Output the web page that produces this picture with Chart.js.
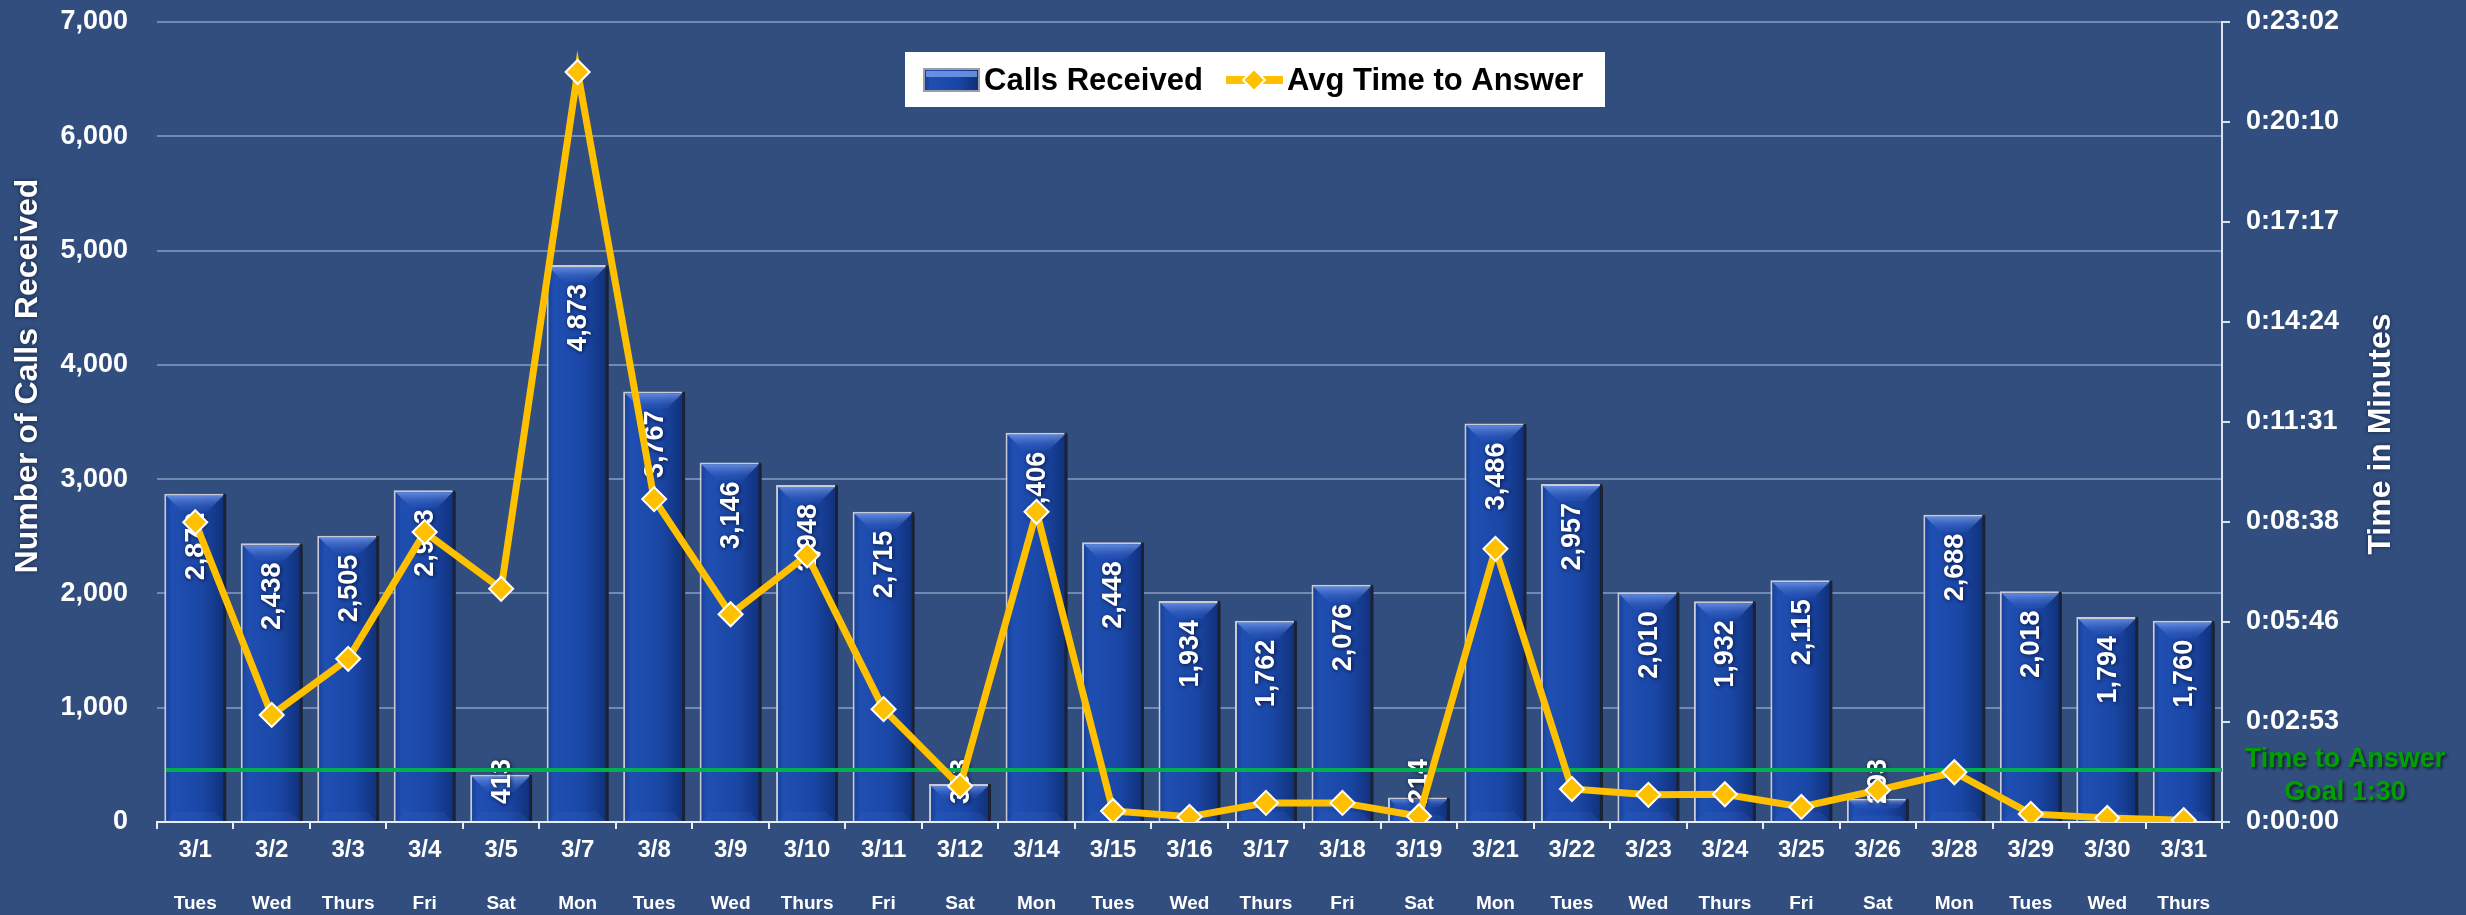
<!DOCTYPE html>
<html>
<head>
<meta charset="utf-8">
<title>Calls Received and Avg Time to Answer</title>
<script src="https://cdn.jsdelivr.net/npm/chart.js@4.4.1/dist/chart.umd.min.js"></script>
<style>
  html, body { margin: 0; padding: 0; background: #314e7e; overflow: hidden; }
</style>
</head>
<body>
<canvas id="callsChart" width="2466" height="915"></canvas>
<script>
const dateLabels = ['3/1', '3/2', '3/3', '3/4', '3/5', '3/7', '3/8', '3/9', '3/10', '3/11', '3/12', '3/14', '3/15', '3/16',
    '3/17', '3/18', '3/19', '3/21', '3/22', '3/23', '3/24', '3/25', '3/26', '3/28', '3/29', '3/30', '3/31'];
const dayLabels = ['Tues', 'Wed', 'Thurs', 'Fri', 'Sat', 'Mon', 'Tues', 'Wed', 'Thurs', 'Fri', 'Sat', 'Mon', 'Tues', 'Wed',
    'Thurs', 'Fri', 'Sat', 'Mon', 'Tues', 'Wed', 'Thurs', 'Fri', 'Sat', 'Mon', 'Tues', 'Wed', 'Thurs'];
const callsReceived = [2872, 2438, 2505, 2903, 413, 4873, 3767, 3146, 2948, 2715, 333, 3406, 2448, 1934,
    1762, 2076, 214, 3486, 2957, 2010, 1932, 2115, 203, 2688, 2018, 1794, 1760];
// average time to answer, in seconds
const avgAnswerSeconds = [518, 185, 282, 501, 403, 1296, 558, 359, 461, 195, 62, 536, 19, 9,
    33, 33, 10, 472, 57, 47, 48, 26, 55, 86, 14, 7, 3];
const callTicks = [0, 1000, 2000, 3000, 4000, 5000, 6000, 7000];
const timeTickSeconds = [0, 172.8, 345.6, 518.4, 691.2, 864, 1036.8, 1209.6, 1382.4];
const timeTickLabels = ['0:00:00', '0:02:53', '0:05:46', '0:08:38', '0:11:31', '0:14:24', '0:17:17', '0:20:10', '0:23:02'];
const goalSeconds = 90;
const goalText = ['Time to Answer', 'Goal 1:30'];

const FONT = '"Liberation Sans", Arial, sans-serif';
const GOLD = '#FFC000';

Chart.defaults.font.family = FONT;
Chart.defaults.font.weight = 'bold';
Chart.defaults.color = '#ffffff';

// horizontal gradient used for the bars
function barGradient(ctx, left, right) {
    const g = ctx.createLinearGradient(left, 0, right, 0);
    g.addColorStop(0, '#163c92');
    g.addColorStop(0.12, '#1f4fb2');
    g.addColorStop(0.6, '#1a47a6');
    g.addColorStop(1, '#102f77');
    return g;
}

const backgroundPlugin = {
    id: 'background',
    beforeDraw(chart) {
        const ctx = chart.ctx;
        ctx.save();
        ctx.fillStyle = '#314e7e';
        ctx.fillRect(0, 0, chart.width, chart.height);
        ctx.restore();
    }
};

// bevels, value labels and the goal line, drawn after the bars but under the line series
const barDecorPlugin = {
    id: 'barDecor',
    afterDatasetDraw(chart, args) {
        if (args.index !== 0) return;
        const ctx = chart.ctx;
        const meta = chart.getDatasetMeta(0);
        ctx.save();
        meta.data.forEach((el) => {
            const {x, y, base, width} = el.getProps(['x', 'y', 'base', 'width'], true);
            const l = x - width / 2, r = x + width / 2;
            const h = base - y;
            const bev = Math.min(15, h / 3);
            // top bevel
            let g = ctx.createLinearGradient(0, y, 0, y + bev);
            g.addColorStop(0, 'rgba(120,160,240,0.9)');
            g.addColorStop(1, 'rgba(50,90,190,0.35)');
            ctx.fillStyle = g;
            ctx.beginPath();
            ctx.moveTo(l + 2, y + 2);
            ctx.lineTo(r - 3, y + 2);
            ctx.lineTo(r - 3 - bev, y + 2 + bev);
            ctx.lineTo(l + 2 + bev, y + 2 + bev);
            ctx.closePath();
            ctx.fill();
            // bottom bevel
            const bb = Math.min(9, h / 4);
            ctx.fillStyle = 'rgba(60,100,200,0.2)';
            ctx.beginPath();
            ctx.moveTo(l + 2 + bb, base - bb);
            ctx.lineTo(r - 3 - bb, base - bb);
            ctx.lineTo(r - 3, base);
            ctx.lineTo(l + 2, base);
            ctx.closePath();
            ctx.fill();
            // dark right edge
            ctx.fillStyle = '#1b2234';
            ctx.fillRect(r - 3, y, 3, h);
        });

        // value labels
        ctx.font = 'bold 27px ' + FONT;
        ctx.fillStyle = '#ffffff';
        ctx.shadowColor = 'rgba(0,0,20,0.75)';
        ctx.shadowBlur = 4;
        ctx.shadowOffsetX = 1;
        ctx.shadowOffsetY = 1;
        ctx.textAlign = 'center';
        ctx.textBaseline = 'middle';
        meta.data.forEach((el, i) => {
            const {x, y, base} = el.getProps(['x', 'y', 'base'], true);
            const txt = callsReceived[i].toLocaleString('en-US');
            const len = ctx.measureText(txt).width;
            let top = y + 19;
            if (top + len > base - 17) top = base - 17 - len;
            ctx.save();
            ctx.translate(x, top + len / 2);
            ctx.rotate(-Math.PI / 2);
            ctx.fillText(txt, 0, 1);
            ctx.restore();
        });
        ctx.restore();

        // goal line
        const area = chart.chartArea;
        const gy = chart.scales.y2.getPixelForValue(goalSeconds);
        ctx.save();
        ctx.strokeStyle = '#00b050';
        ctx.lineWidth = 4;
        ctx.beginPath();
        ctx.moveTo(area.left + 9, gy);
        ctx.lineTo(area.right, gy);
        ctx.stroke();
        ctx.restore();
    }
};

// legend box, axis titles and goal caption
const overlayPlugin = {
    id: 'overlay',
    afterDraw(chart) {
        const ctx = chart.ctx;
        ctx.save();

        // legend
        ctx.fillStyle = '#ffffff';
        ctx.fillRect(905, 52, 700, 55);
        ctx.fillStyle = barGradient(ctx, 924, 979);
        ctx.fillRect(924, 69, 55, 22);
        ctx.fillStyle = 'rgba(120,160,240,0.8)';
        ctx.fillRect(926, 71, 51, 6);
        ctx.strokeStyle = '#9a9ea8';
        ctx.lineWidth = 2;
        ctx.strokeRect(924, 69, 55, 22);
        ctx.fillStyle = '#000000';
        ctx.font = 'bold 31px ' + FONT;
        ctx.textBaseline = 'middle';
        ctx.textAlign = 'left';
        ctx.fillText(chart.data.datasets[0].label, 984, 81);
        ctx.strokeStyle = GOLD;
        ctx.lineWidth = 8;
        ctx.beginPath();
        ctx.moveTo(1226, 80);
        ctx.lineTo(1283, 80);
        ctx.stroke();
        ctx.fillStyle = GOLD;
        ctx.strokeStyle = '#ffffff';
        ctx.lineWidth = 2;
        ctx.beginPath();
        ctx.moveTo(1254, 69);
        ctx.lineTo(1265, 80);
        ctx.lineTo(1254, 91);
        ctx.lineTo(1243, 80);
        ctx.closePath();
        ctx.fill();
        ctx.stroke();
        ctx.fillStyle = '#000000';
        ctx.fillText(chart.data.datasets[1].label, 1287, 81);

        // axis titles
        ctx.font = 'bold 32px ' + FONT;
        ctx.fillStyle = '#ffffff';
        ctx.shadowColor = 'rgba(0,0,20,0.6)';
        ctx.shadowBlur = 4;
        ctx.textAlign = 'center';
        ctx.save();
        ctx.translate(28, 376);
        ctx.rotate(-Math.PI / 2);
        ctx.fillText('Number of Calls Received', 0, 0);
        ctx.restore();
        ctx.save();
        ctx.translate(2381, 434);
        ctx.rotate(-Math.PI / 2);
        ctx.fillText('Time in Minutes', 0, 0);
        ctx.restore();

        // goal caption
        ctx.font = 'bold 27px ' + FONT;
        ctx.fillStyle = '#00a000';
        ctx.shadowColor = 'rgba(0,0,0,0.6)';
        ctx.shadowBlur = 3;
        ctx.shadowOffsetX = 2;
        ctx.shadowOffsetY = 2;
        ctx.fillText(goalText[0], 2345, 760);
        ctx.fillText(goalText[1], 2345, 793);
        ctx.restore();
    }
};

const ctx = document.getElementById('callsChart').getContext('2d');

new Chart(ctx, {
    type: 'bar',
    data: {
        labels: dateLabels,
        datasets: [
            {
                type: 'bar',
                label: 'Calls Received',
                data: callsReceived,
                xAxisID: 'x',
                yAxisID: 'y',
                order: 1,
                barPercentage: 0.81,
                categoryPercentage: 1.0,
                borderWidth: {left: 2, top: 2, right: 0, bottom: 0},
                borderSkipped: false,
                borderColor: '#c9ccd6',
                backgroundColor: function(context) {
                    const chart = context.chart;
                    const xs = chart.scales.x;
                    if (!xs || !chart.chartArea) return '#1a47a6';
                    const cx = xs.getPixelForValue(context.dataIndex);
                    const half = xs.width / dateLabels.length * 0.81 / 2;
                    return barGradient(chart.ctx, cx - half, cx + half);
                }
            },
            {
                type: 'line',
                label: 'Avg Time to Answer',
                data: avgAnswerSeconds,
                xAxisID: 'x',
                yAxisID: 'y2',
                order: 0,
                borderColor: GOLD,
                borderWidth: 7,
                tension: 0,
                pointStyle: 'rectRot',
                pointRadius: 12,
                pointBackgroundColor: GOLD,
                pointBorderColor: '#ffffff',
                pointBorderWidth: 2
            }
        ]
    },
    options: {
        responsive: false,
        animation: false,
        layout: {
            padding: {top: 22, left: 0, right: 0, bottom: 0}
        },
        scales: {
            x: {
                type: 'category',
                position: 'bottom',
                weight: 0,
                offset: true,
                grid: {
                    offset: true,
                    drawOnChartArea: false,
                    drawTicks: true,
                    tickLength: 7,
                    color: '#e8ecf3',
                    lineWidth: 2
                },
                border: {display: true, color: '#e8ecf3', width: 2},
                ticks: {
                    autoSkip: false,
                    maxRotation: 0,
                    padding: 7,
                    font: {size: 24, weight: 'bold'}
                },
                afterFit(scale) { scale.height = 48; }
            },
            x2: {
                type: 'category',
                position: 'bottom',
                weight: 1,
                labels: dayLabels,
                offset: true,
                grid: {display: false, drawTicks: false},
                border: {display: false},
                ticks: {
                    autoSkip: false,
                    maxRotation: 0,
                    padding: 22,
                    font: {size: 19, weight: 'bold'}
                },
                afterFit(scale) { scale.height = 45; }
            },
            y: {
                type: 'linear',
                position: 'left',
                min: 0,
                max: 7000,
                grid: {
                    color: 'rgba(180,195,228,0.5)',
                    lineWidth: 2,
                    drawTicks: false
                },
                border: {display: false},
                ticks: {
                    padding: 29,
                    font: {size: 27, weight: 'bold'},
                    callback: function(value) {
                        return value.toLocaleString('en-US');
                    }
                },
                afterBuildTicks(scale) {
                    scale.ticks = callTicks.map(v => ({value: v}));
                },
                afterFit(scale) {
                    scale.width = 157;
                    scale.paddingTop = 0;
                    scale.paddingBottom = 0;
                }
            },
            y2: {
                type: 'linear',
                position: 'right',
                min: 0,
                max: timeTickSeconds[timeTickSeconds.length - 1],
                grid: {
                    drawOnChartArea: false,
                    drawTicks: true,
                    tickLength: 8,
                    color: '#dde3ee',
                    lineWidth: 2
                },
                border: {display: true, color: '#dde3ee', width: 2},
                ticks: {
                    padding: 16,
                    font: {size: 27, weight: 'bold'},
                    callback: function(value, index) {
                        return timeTickLabels[index];
                    }
                },
                afterBuildTicks(scale) {
                    scale.ticks = timeTickSeconds.map(v => ({value: v}));
                },
                afterFit(scale) {
                    scale.width = 244;
                    scale.paddingTop = 0;
                    scale.paddingBottom = 0;
                }
            }
        },
        plugins: {
            legend: {display: false},
            tooltip: {enabled: false}
        }
    },
    plugins: [backgroundPlugin, barDecorPlugin, overlayPlugin]
});
</script>
</body>
</html>
